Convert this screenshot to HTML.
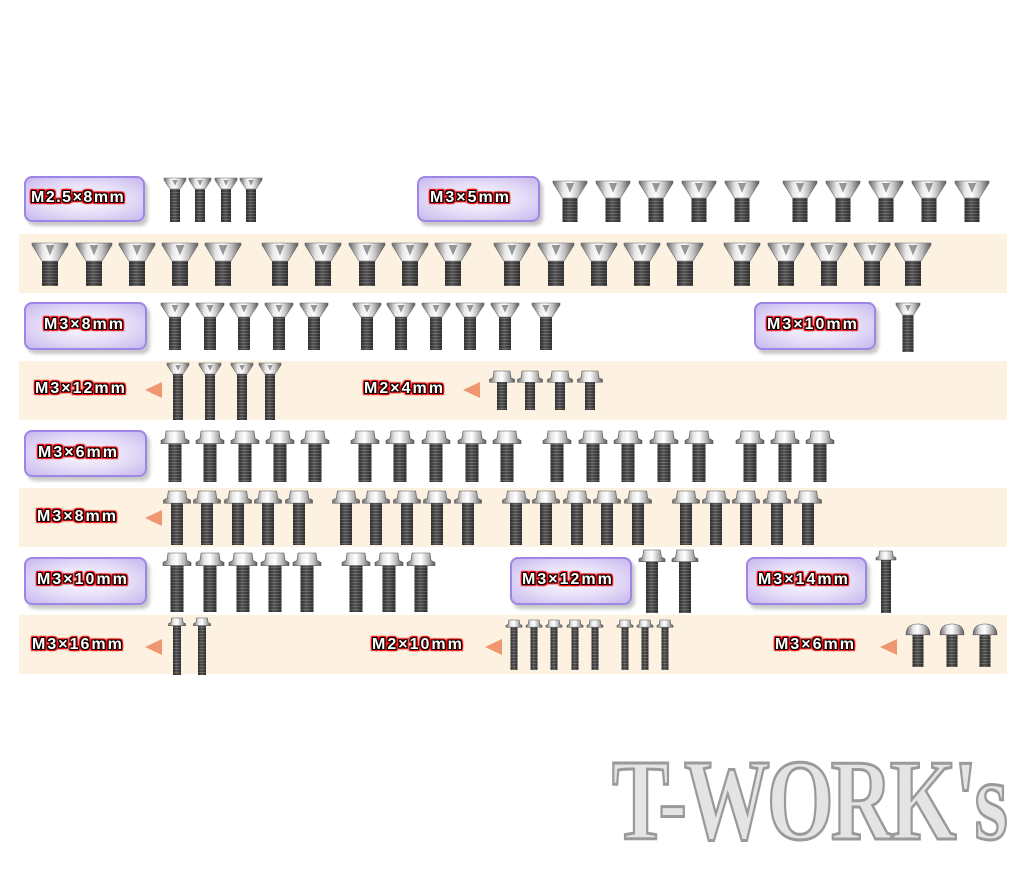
<!DOCTYPE html>
<html><head><meta charset="utf-8">
<style>
body{margin:0;background:#fff;width:1024px;height:874px;overflow:hidden;position:relative;font-family:"Liberation Sans",sans-serif}
.band{position:absolute;left:19px;width:988px;height:59px;background:#fdf1e1}
.pbox{position:absolute;border:2px solid #9d86e6;border-radius:8px;background:radial-gradient(ellipse at 50% 50%,#fbfaff 0%,#e4dcf7 55%,#c7b7ee 100%);box-shadow:3px 4px 3px #c8c8c8;box-sizing:border-box}
.lbl{position:absolute;color:#fff;font-weight:bold;font-size:16px;letter-spacing:2px;text-shadow:1px 0 0 #000,-1px 0 0 #000,0 1px 0 #000,0 -1px 0 #000,1px 1px 0 #000,-1px -1px 0 #000,1px -1px 0 #000,-1px 1px 0 #000,2px 0 1px #e00,-2px 0 1px #e00,0 2px 1px #e00,0 -2px 1px #e00,2px 2px 1px #e00,-2px -2px 1px #e00,2px -2px 1px #e00,-2px 2px 1px #e00;white-space:nowrap}
.arr{position:absolute;width:0;height:0;border-top:8px solid transparent;border-bottom:8px solid transparent;border-right:17px solid #ee9770}
svg{position:absolute;left:0;top:0}
.wm{position:absolute;left:612px;top:735px;font-size:116px;font-weight:bold;font-family:"Liberation Serif",serif;color:#e4e4e4;-webkit-text-stroke:3px #9a9a9a;letter-spacing:-4px;transform:scaleX(0.74);transform-origin:left top;white-space:nowrap}
</style></head><body>
<div class="band" style="top:234px"></div>
<div class="band" style="top:361px"></div>
<div class="band" style="top:488px"></div>
<div class="band" style="top:615px"></div>

<div class="pbox" style="left:24px;top:176px;width:121px;height:46px"></div>
<div class="pbox" style="left:417px;top:176px;width:123px;height:46px"></div>
<div class="pbox" style="left:24px;top:302px;width:123px;height:48px"></div>
<div class="pbox" style="left:754px;top:302px;width:122px;height:48px"></div>
<div class="pbox" style="left:24px;top:430px;width:123px;height:47px"></div>
<div class="pbox" style="left:24px;top:557px;width:123px;height:48px"></div>
<div class="pbox" style="left:510px;top:557px;width:122px;height:48px"></div>
<div class="pbox" style="left:746px;top:557px;width:121px;height:48px"></div>

<div class="lbl" style="left:31px;top:189px;letter-spacing:1.5px">M2.5×8mm</div>
<div class="lbl" style="left:430px;top:189px">M3×5mm</div>
<div class="lbl" style="left:44px;top:316px">M3×8mm</div>
<div class="lbl" style="left:767px;top:316px">M3×10mm</div>
<div class="lbl" style="left:38px;top:444px">M3×6mm</div>
<div class="lbl" style="left:37px;top:571px">M3×10mm</div>
<div class="lbl" style="left:522px;top:571px">M3×12mm</div>
<div class="lbl" style="left:758px;top:571px">M3×14mm</div>

<div class="lbl" style="left:35px;top:380px">M3×12mm</div>
<div class="arr" style="left:145px;top:382px"></div>
<div class="lbl" style="left:364px;top:380px">M2×4mm</div>
<div class="arr" style="left:463px;top:382px"></div>
<div class="lbl" style="left:37px;top:508px">M3×8mm</div>
<div class="arr" style="left:145px;top:510px"></div>
<div class="lbl" style="left:32px;top:636px">M3×16mm</div>
<div class="arr" style="left:145px;top:639px"></div>
<div class="lbl" style="left:372px;top:636px">M2×10mm</div>
<div class="arr" style="left:485px;top:639px"></div>
<div class="lbl" style="left:775px;top:636px">M3×6mm</div>
<div class="arr" style="left:880px;top:639px"></div>

<div class="wm">T-WORK's</div>

<svg id="s" width="1024" height="874" xmlns="http://www.w3.org/2000/svg">
<defs>
<linearGradient id="hd" x1="0" x2="1" y1="0" y2="0">
<stop offset="0" stop-color="#6a6a6a"/><stop offset="0.3" stop-color="#e8e8e8"/><stop offset="0.5" stop-color="#ffffff"/><stop offset="0.75" stop-color="#bcbcbc"/><stop offset="1" stop-color="#5a5a5a"/></linearGradient>
<linearGradient id="sh" x1="0" x2="1" y1="0" y2="0">
<stop offset="0" stop-color="#222"/><stop offset="0.45" stop-color="#777"/><stop offset="1" stop-color="#222"/></linearGradient>
<pattern id="th" width="4" height="3" patternUnits="userSpaceOnUse"><rect width="4" height="3" fill="#333"/><rect y="0" width="4" height="1" fill="#9a9a9a" opacity="0.6"/></pattern>
</defs>
<g id="g"></g>
</svg>
<script>
var g=document.getElementById('g'),ns='http://www.w3.org/2000/svg';
function el(t,a){var e=document.createElementNS(ns,t);for(var k in a)e.setAttribute(k,a[k]);g.appendChild(e);}
function screw(x,top,bot,type,hw,sw){
  var hh=type=='c'?hw*0.5:hw*0.45;
  el('rect',{x:x-sw/2,y:top+hh-1,width:sw,height:bot-top-hh+1,fill:'url(#th)'});
  el('rect',{x:x-sw/2,y:top+hh-1,width:sw,height:bot-top-hh+1,fill:'url(#sh)',opacity:0.5});
  if(type=='c'){
    el('path',{d:'M'+(x-hw/2)+' '+top+' L'+(x+hw/2)+' '+top+' L'+(x+hw/2)+' '+(top+2)+' L'+(x+sw/2)+' '+(top+hh)+' L'+(x-sw/2)+' '+(top+hh)+' L'+(x-hw/2)+' '+(top+2)+'Z',fill:'url(#hd)',stroke:'#666','stroke-width':0.6});
    el('path',{d:'M'+(x-hw*0.12)+' '+(top+2)+' L'+(x+hw*0.12)+' '+(top+2)+' L'+x+' '+(top+hh*0.7)+'Z',fill:'#555',opacity:0.6});
  }else if(type=='f'){
    el('path',{d:'M'+(x-hw*0.32)+' '+top+' L'+(x+hw*0.32)+' '+top+' L'+(x+hw*0.36)+' '+(top+hh*0.6)+' L'+(x+hw/2)+' '+(top+hh*0.75)+' L'+(x+hw/2)+' '+(top+hh)+' L'+(x-hw/2)+' '+(top+hh)+' L'+(x-hw/2)+' '+(top+hh*0.75)+' L'+(x-hw*0.36)+' '+(top+hh*0.6)+'Z',fill:'url(#hd)',stroke:'#555','stroke-width':0.6});
  }else{
    el('path',{d:'M'+(x-hw/2)+' '+(top+hh)+' Q'+(x-hw/2)+' '+top+' '+x+' '+top+' Q'+(x+hw/2)+' '+top+' '+(x+hw/2)+' '+(top+hh)+'Z',fill:'url(#hd)',stroke:'#555','stroke-width':0.6});
  }
}
function row(xs,top,bot,type,hw,sw){xs.forEach(function(x){screw(x,top,bot,type,hw,sw);});}
row([175,200,226,251],178,222,'c',22,10);
row([570,613,656,699,742,800,843,886,929,972],181,222,'c',34,15);
row([50,94,137,180,223,280,323,367,410,453,512,556,599,642,685,742,786,829,872,913],243,286,'c',36,16);
row([175,210,244,279,314,367,401,436,470,505,546],303,350,'c',28,12);
row([908],303,352,'c',24,11);
row([178,210,242,270],363,420,'c',22,10);
row([502,530,560,590],371,410,'f',25,10);
row([175,210,245,280,315,365,400,436,472,507,557,593,628,664,699,750,785,820],431,482,'f',28,13);
row([177,207,238,268,299,346,376,407,437,468,516,546,577,607,638,686,716,746,777,808],491,545,'f',27,12);
row([177,210,243,275,307,356,389,421],553,612,'f',28,13);
row([652,685],550,613,'f',26,12);
row([886],551,613,'f',20,10);
row([177,202],618,675,'f',17,8);
row([514,534,554,575,595,625,645,665],620,670,'f',16,7);
row([918,952,985],624,667,'b',24,11);
</script>
</body></html>
